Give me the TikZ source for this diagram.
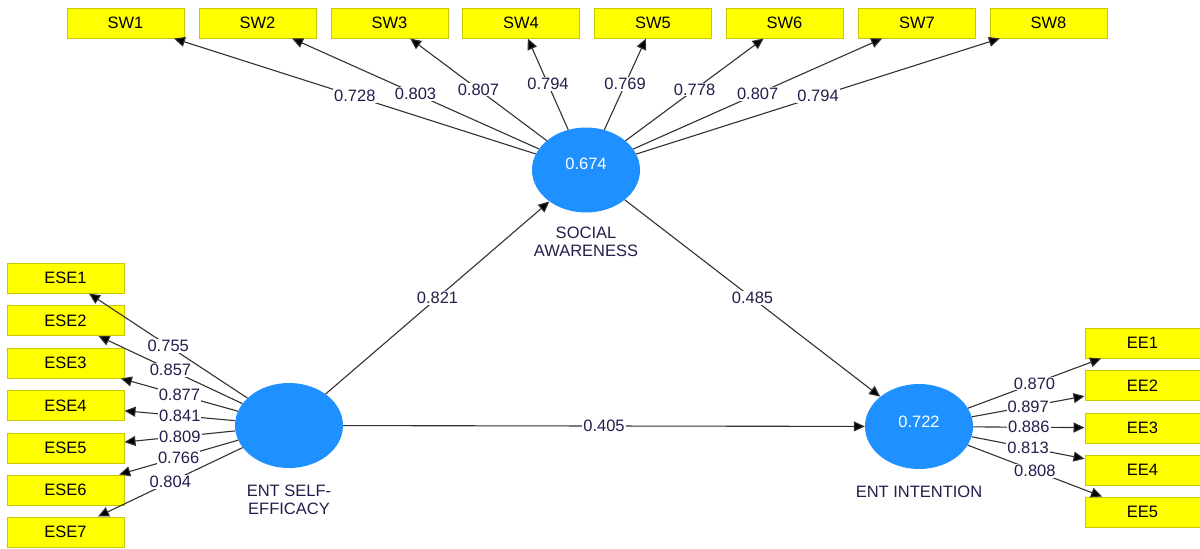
\documentclass[tikz,border=0pt]{standalone}
\usepackage{fontspec}
\setmainfont{Liberation Sans}
\usetikzlibrary{arrows.meta,shapes.geometric}
\definecolor{lvblue}{RGB}{30,144,255}
\definecolor{mvfill}{RGB}{255,255,0}
\definecolor{mvborder}{RGB}{200,200,0}
\definecolor{edgecol}{RGB}{50,50,50}
\definecolor{numcol}{RGB}{35,30,75}
\begin{document}
\begin{tikzpicture}[x=1pt,y=-1pt,
  mv/.style={draw=mvborder,fill=mvfill,line width=1pt,minimum width=117pt,minimum height=30pt,inner sep=0pt,font=\fontsize{16.5}{18}\selectfont,text=black},
  mvr/.style={mv,minimum width=115pt},
  lv/.style={ellipse,fill=lvblue,minimum width=108pt,minimum height=85pt,inner sep=0pt},
  lvtxt/.style={text=white,font=\fontsize{16.5}{18}\selectfont,inner sep=0pt},
  lvlab/.style={text=numcol,font=\fontsize{16.5}{18}\selectfont,align=center,inner sep=0pt},
  conn/.style={draw=edgecol,line width=1.1pt,-{Triangle[length=11pt,width=10pt,fill=black]}},
  wt/.style={fill=white,inner sep=1pt,text=numcol,font=\fontsize{16.5}{18}\selectfont}
]
\fill[white] (0,0) rectangle (1200,549);
\useasboundingbox (0,0) rectangle (1200,549);

% indicator boxes
\node[mv] (sw1) at (125.5,23) {SW1};
\node[mv] (sw2) at (257.5,23) {SW2};
\node[mv] (sw3) at (389.5,23) {SW3};
\node[mv] (sw4) at (521,23) {SW4};
\node[mv] (sw5) at (653,23) {SW5};
\node[mv] (sw6) at (784.5,23) {SW6};
\node[mv] (sw7) at (917,23) {SW7};
\node[mv] (sw8) at (1048.5,23) {SW8};

\node[mv] (ese1) at (65.5,278) {ESE1};
\node[mv] (ese2) at (65.5,320.5) {ESE2};
\node[mv] (ese3) at (65.5,363) {ESE3};
\node[mv] (ese4) at (65.5,405.5) {ESE4};
\node[mv] (ese5) at (65.5,448) {ESE5};
\node[mv] (ese6) at (65.5,490) {ESE6};
\node[mv] (ese7) at (65.5,532) {ESE7};

\node[mvr] (ee1) at (1142.5,343) {EE1};
\node[mvr] (ee2) at (1142.5,385.5) {EE2};
\node[mvr] (ee3) at (1142.5,428) {EE3};
\node[mvr] (ee4) at (1142.5,470) {EE4};
\node[mvr] (ee5) at (1142.5,512) {EE5};

% latent variables
\node[lv] (sa) at (586,170) {};
\node[lv] (ese) at (289,425.5) {};
\node[lv] (ei) at (919,426.5) {};
\node[lvtxt] (satxt) at (586,164) {0.674};
\node[lvtxt] (eitxt) at (919,422) {0.722};
\node[lvlab] (salab) at (586,242) {SOCIAL\\AWARENESS};
\node[lvlab] (eselab) at (289,499.5) {ENT SELF-\\EFFICACY};
\node[lvlab] (eilab) at (919,492) {ENT INTENTION};

% outer loadings
\draw[conn] (sa) -- node[wt]{0.728} (sw1);
\draw[conn] (sa) -- node[wt]{0.803} (sw2);
\draw[conn] (sa) -- node[wt]{0.807} (sw3);
\draw[conn] (sa) -- node[wt]{0.794} (sw4);
\draw[conn] (sa) -- node[wt]{0.769} (sw5);
\draw[conn] (sa) -- node[wt]{0.778} (sw6);
\draw[conn] (sa) -- node[wt]{0.807} (sw7);
\draw[conn] (sa) -- node[wt]{0.794} (sw8);

\draw[conn] (ese) -- node[wt]{0.755} (ese1);
\draw[conn] (ese) -- node[wt]{0.857} (ese2);
\draw[conn] (ese) -- node[wt]{0.877} (ese3);
\draw[conn] (ese) -- node[wt]{0.841} (ese4);
\draw[conn] (ese) -- node[wt]{0.809} (ese5);
\draw[conn] (ese) -- node[wt]{0.766} (ese6);
\draw[conn] (ese) -- node[wt]{0.804} (ese7);

\draw[conn] (ei) -- node[wt]{0.870} (ee1);
\draw[conn] (ei) -- node[wt]{0.897} (ee2);
\draw[conn] (ei) -- node[wt]{0.886} (ee3);
\draw[conn] (ei) -- node[wt]{0.813} (ee4);
\draw[conn] (ei) -- node[wt]{0.808} (ee5);

% structural paths
\draw[conn] (ese) -- node[wt]{0.821} (sa);
\draw[conn] (ese) -- node[wt]{0.405} (ei);
\draw[conn] (sa) -- node[wt]{0.485} (ei);
\end{tikzpicture}
\end{document}
